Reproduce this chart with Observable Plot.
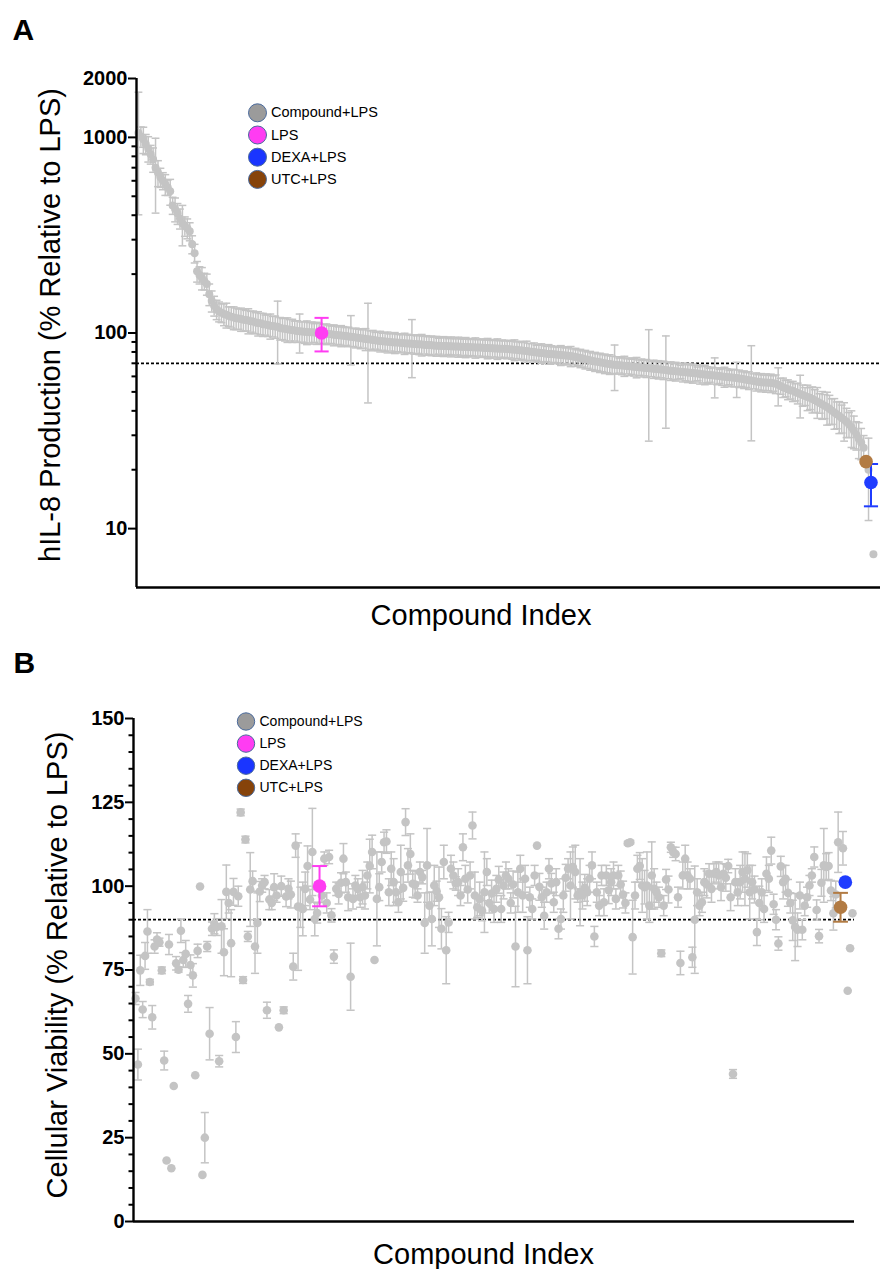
<!DOCTYPE html>
<html><head><meta charset="utf-8">
<script src="https://cdn.jsdelivr.net/npm/d3@7"></script>
<script src="https://cdn.jsdelivr.net/npm/@observablehq/plot@0.6"></script>
<style>
body{margin:0;background:#fff;}
#wrap{width:881px;}
#wrap svg{display:block;}
</style></head><body><div id="wrap"></div>
<script>
// ---------- shared categories ----------
const groups = ["Compound+LPS", "LPS", "DEXA+LPS", "UTC+LPS"];
const ctrlNames = ["LPS", "DEXA+LPS", "UTC+LPS"];

// ---------- Panel A: hIL-8 production (% of LPS), compounds ----------
const compA = [
1052,1010,977,925,878,820,773,700,660,625,
600,575,555,530,449,430,409,385,364,352,
343,331,284,256,207,198,191,184,178,158,
146,138,132,129,127,125,124,122,121,120,
119,118.5,118,117,116.5,116,115,114.5,113,112.5,
112,111,110.5,110,109,108.5,108,107.5,106,105.5,
105,104.5,104,103.5,103,102.5,102,101.8,101.5,101.2,
101,100.8,100.6,100.4,100.2,99.6,99.2,98.8,98.4,98,
97.7,97.4,97.1,96.8,96.5,96.1,95.7,95.3,94.9,94.5,
94.1,93.7,93.3,92.9,92.5,92.1,91.7,91.4,91.0,90.7,
90.4,90.1,89.9,89.7,89.5,89.3,89.1,88.9,88.7,88.5,
88.3,88.1,87.9,87.7,87.5,87.3,87.1,86.9,86.7,86.5,
86.3,86.1,86.0,85.9,85.8,85.7,85.6,85.5,85.4,85.3,
85.2,85.0,84.9,84.8,84.7,84.6,84.5,84.4,84.3,84.2,
84.0,83.9,83.8,83.6,83.5,83.4,83.3,83.2,83.1,83.0,
82.8,82.6,82.4,82.2,82.0,81.7,81.4,81.1,80.8,80.5,
80.2,79.9,79.6,79.3,79.0,78.7,78.4,78.2,78.0,77.8,
77.6,77.4,77.2,77.0,76.8,76.6,76.3,75.9,75.5,75.0,
74.5,74.0,73.5,73.0,72.5,72.0,71.6,71.2,70.8,70.4,
70.0,69.7,69.4,69.1,68.8,68.6,68.4,68.2,68.0,67.8,
67.6,67.4,67.2,67.0,66.8,66.6,66.4,66.2,66.0,65.8,
65.6,65.4,65.2,65.0,64.8,64.6,64.4,64.2,64.0,63.8,
63.6,63.4,63.2,63.0,62.8,62.6,62.4,62.2,62.0,61.8,
61.6,61.4,61.2,61.0,60.8,60.6,60.4,60.2,60.0,59.8,
59.6,59.4,59.2,59.0,58.8,58.6,58.3,58.0,57.7,57.4,
57.1,56.8,56.5,56.2,56.0,55.9,55.8,55.7,55.6,55.4,
55.0,54.4,53.6,52.8,52.2,51.6,51.0,50.6,50.0,49.4,
48.8,48.2,47.6,47.1,46.6,46.0,45.3,44.6,43.9,43.2,
42.5,41.8,41.0,40.1,39.2,38.4,37.6,36.8,36.0,35.2,
34.2,33.0,31.6,30.2,28.8,27.5,25.9,20.0,7.4
];
const sdA = [
650,120,150,110,130,90,110,290,100,70,
60,70,50,80,45,60,50,45,85,40,
40,35,30,28,25,20,25,18,22,20,
18,16,15,15,14,16,18,14,15,16,
15,14,16,15,14,17,14,15,14,16,
14,15,13,14,16,13,14,38,14,13,
14,15,13,14,12,13,23,12,13,14,
12,13,11,13,12,11,12,11,10,12,
11,10,12,11,10,11,27,10,11,10,
11,10,12,49,10,11,9,10,11,9,
10,11,9,10,11,9,10,9,11,10,
9,29,10,9,10,11,9,10,9,10,
9,10,8,9,10,9,8,10,9,8,
10,9,8,10,9,8,9,10,8,9,
9,8,10,9,8,9,10,8,9,8,
9,8,9,10,8,9,8,9,10,8,
8,9,7,8,9,8,7,9,8,7,
8,7,9,8,7,8,9,7,8,7,
8,7,8,7,8,7,8,7,8,7,
8,7,8,7,18,7,6,7,8,6,
7,6,7,8,6,7,6,7,38,6,
7,6,7,6,7,32,6,7,6,7,
6,5,7,6,7,6,7,6,5,7,
6,7,6,5,6,14,6,5,6,7,
6,5,6,6,12,6,5,6,5,6,
29,5,6,5,6,5,6,5,6,5,
6,12,5,6,5,6,5,6,5,6,
12,6,5,7,6,7,6,8,5,7,
6,8,7,6,7,6,7,6,8,6,
5,7,6,5,6,5,4,9,0
];
const ctrlA = [100, 17.2, 22];
const ctrlSdA = [19.5, 4.2, 0];
const thresholdA = 70;
const majorTicksA = [10, 100, 1000, 2000];
const minorTicksA = [20,30,40,50,60,70,80,90,200,300,400,500,600,700,800,900];

// ---------- Panel B: cellular viability (% of LPS), display order ----------
const vB = [
66.5,46.8,74.9,63.2,79.2,86.5,71.4,60.9,82.0,84.1,
83.3,74.9,48,18.2,82.6,15.9,40.4,77.0,75.1,86.7,
78,79.8,64.9,76.5,73.4,43.6,80.7,99.9,13.9,25,
82,56,87.3,88.8,87.8,47.8,88,80.3,98.3,95.0,
83,98.3,55,97.0,122,72,113.9,85,99,101.5,
82,89,98.4,100.2,101.2,63,96,95,99.7,97.2,
57.9,100,63,96.9,99.2,97.5,76,112.1,93.9,93.7,
93.2,99.2,106,96,110.2,90.2,92,
97.2,108.2,95,108.7,91.3,79,99.2,97.7,101,108.2,
101.2,96.7,73,96.2,100.2,99.2,96.7,99.7,97.2,103.2,
106,110.2,78,96.2,99.7,107.2,113.1,113.3,
98.2,105.2,101.2,98.2,95.2,104.2,99.5,119.1,106.2,109.6,
100.7,100.5,97.2,104.2,102.7,89,106.2,94.2,90.2,100.2,
98.5,96.7,87.3,107.2,80.9,89.2,105.2,103.2,100.8,101.2,
97.2,111.6,102.2,99.0,103.2,118.1,97.2,93.7,96.2,92.7,
98.2,104.2,95,97.8,93.2,99.2,101.9,93.2,100.2,103.2,
102.2,95,100.5,82,98.2,105.2,97.2,102.2,80.9,96.7,
93.2,103.2,112.1,99.8,96.7,91.2,98.2,105.2,100.8,95.2,
101.2,87.3,90.2,97.2,102.5,105.2,100.2,105.7,104.2,97.2,
98.2,97.2,99.5,98.2,102.2,106.2,85,98.2,94.2,103.2,
95.2,103.2,98.8,101.2,103.2,96.2,103.2,100.5,97.5,
95,112.8,113.1,84.8,97.2,105.2,106,100.2,99.7,100.2,
94.2,103.2,99.2,98.2,96.7,80,94.2,102,99.0,111.6,
110.1,109.6,96.7,77.1,103.2,108.2,103.2,102.2,78.8,90,
98.2,94.2,95.2,101.2,100.5,103.7,99.2,103.7,104.2,103.2,
99.7,103.7,102.5,106,96.7,44,101.2,98.2,101.2,104.2,
102.2,104.7,98.2,101.2,99.0,86.3,95,98.2,93.2,103.7,
102.2,110.6,94.6,90,82.9,105.9,101.2,102.2,98.0,95,
89.8,87.8,87,97.2,87,94.2,96.7,100.2,103.2,108.7,
92.9,85.1,101.0,106.2,105.7,106,98.7,91.9,97.5,113.1,
111.3,68.8,81.5,91.9
];
const sdB = [
1.8,4.6,4.5,2.4,4,6.5,0.8,3.5,2,2,
1.2,1,2.8,0,3,0,0,2,0.8,3.5,
2.2,4,2.5,3,3.5,0,2,0,0,7.5,
1.5,7.8,2,3,2.5,1.7,8,7,8,3,
10,4,4.6,3,1,1,1,1.5,11,3,
8,9,3,2,2,2.4,3,2,4,2,
0,3,1,3,3,4,4,3.5,19,6,
8,5,6,3,13,5,3,
2,2,3,2,2,2,2,3,3,4.5,
3,4,10,3,3,3,3,5,4,4,
8,5,0,14,4,3,3,3.5,
4,5,7,3,3,8,4,4,5,6,
4,4,2,3,2,9,11,4,8,6,
3,9,6,5,10,3,4,4,2,4,
3,4,4,4,4,4,7,3,5,3,
12,4,3,4,4,4,4,4,4,4,
3,3,4,12,6,4,5,4,10,3,
3,3,0,4,3,4,3,3,3,3,
4,3,3,5,4,3,10,6,8,2,
10,4,4,4,4,4,3,3,3,3,
4,3,4,4,4,3,3,4,4,
3,0.5,0.5,11,4,4,4,8,5,10,
5,10,6,3,3,1,3,3,4,1.5,
1.5,2,3,3.5,4,4,4,3,3,16,
4,3,3,4,4,3,4,3,3,4,
4,3,4,2,4,1.3,4,4,5,6,
8,5,8,5,4,4,5,4,4,5,
4,4,3,3,2,3,5,4,4,3,
6,10,5,4,3,3,3,3,2,3,
3,2,4,11,4,4,3,5,4,9,
5,0,0,0
];
const ctrlB = [100, 101.2, 93.7];
const ctrlSdB = [6, 0, 4.3];
const ctrlAfterB = [77, 295, 294]; // number of compounds shown before each control
const thresholdB = 90;
const majorTicksB = [0, 25, 50, 75, 100, 125, 150];
const minorTicksB = [5,10,15,20,30,35,40,45,55,60,65,70,80,85,90,95,105,110,115,120,130,135,140,145];

// ---------- styling ----------
const FONT = '"Liberation Sans", Arial, Helvetica, sans-serif';
const grayDot = "#c4c4c4";
const ctrlDot = ["#ff3cf2", "#1f3cff", "#b27b43"];
const legendFill = ["#9b9b9b", "#ff3cf2", "#1a35ff", "#86430a"];

function errMarks(rows, color, cap, sw) {
  const r = rows.filter(d => d.sd > 0);
  return [
    Plot.ruleX(r, {x: "i", y1: d => d.v - d.sd, y2: d => d.v + d.sd, stroke: color, strokeWidth: sw}),
    Plot.link(r, {x1: d => d.i - cap, x2: d => d.i + cap, y1: d => d.v + d.sd, y2: d => d.v + d.sd, stroke: color, strokeWidth: sw}),
    Plot.link(r, {x1: d => d.i - cap, x2: d => d.i + cap, y1: d => d.v - d.sd, y2: d => d.v - d.sd, stroke: color, strokeWidth: sw})
  ];
}
function legendMarks(dx0, dy0, step, r, fs) {
  return groups.flatMap((lab, k) => [
    Plot.dot([lab], {frameAnchor: "top-left", dx: dx0, dy: dy0 + k * step, r, fill: legendFill[k], stroke: "#4a6a9c", strokeWidth: 1}),
    Plot.text([lab], {frameAnchor: "top-left", dx: dx0 + 13.5, dy: dy0 + k * step, textAnchor: "start", lineAnchor: "middle", fontSize: fs, fill: "black"})
  ]);
}
function controlMarks(rows, capCtrl, rad) {
  return [1, 2, 3].flatMap(g => {
    const r = rows.filter(d => d.g === g);
    return [...errMarks(r, ctrlDot[g - 1], capCtrl, 2), Plot.dot(r, {x: "i", y: "v", r: rad, fill: ctrlDot[g - 1]})];
  });
}

// ---------- Panel A data table ----------
const rowsA = compA.map((v, j) => ({v, sd: sdA[j], g: 0}))
  .concat(ctrlA.map((v, k) => ({v, sd: ctrlSdA[k], g: k + 1})));
const sortedA = d3.sort(rowsA, d => -d.v);
sortedA.forEach((d, i) => d.i = i);
const grayA = sortedA.filter(d => d.g === 0);

const plotA = Plot.plot({
  width: 881, height: 640,
  marginTop: 78, marginBottom: 53, marginLeft: 136, marginRight: 1,
  style: {fontFamily: FONT, background: "transparent", overflow: "visible", color: "black"},
  x: {domain: [-0.8, sortedA.length - 1 + 2.9], axis: null},
  y: {type: "log", domain: [5, 2000], axis: null},
  marks: [
    Plot.ruleY([thresholdA], {stroke: "black", strokeWidth: 1.8, strokeDasharray: "3,2"}),
    ...errMarks(grayA, grayDot, 1.6, 1.5),
    Plot.dot(grayA, {x: "i", y: "v", r: 4, fill: grayDot}),
    ...controlMarks(sortedA, 2.9, 6.8),
    Plot.axisY({ticks: minorTicksA, tickSize: 4.5, tickFormat: () => "", strokeWidth: 2, label: null}),
    Plot.axisY({ticks: majorTicksA, tickSize: 8, tickPadding: 1, tickFormat: d => String(d), fontSize: 20, fontWeight: "bold", strokeWidth: 2, label: null}),
    Plot.ruleX([-0.8], {stroke: "black", strokeWidth: 2.4}),
    Plot.ruleY([5], {stroke: "black", strokeWidth: 2.4}),
    ...legendMarks(121, 34.3, 22.2, 9, 14.5),
    Plot.text(["hIL-8 Production (% Relative to LPS)"], {frameAnchor: "left", dx: -86, dy: -8, rotate: -90, textAnchor: "middle", lineAnchor: "middle", fontSize: 29, fill: "black"}),
    Plot.text(["Compound Index"], {frameAnchor: "bottom", dx: -27.5, dy: 28.7, textAnchor: "middle", lineAnchor: "middle", fontSize: 29, fill: "black"}),
    Plot.text(["A"], {frameAnchor: "top-left", dx: -124, dy: -48, textAnchor: "start", lineAnchor: "middle", fontSize: 30, fontWeight: "bold", fill: "black"})
  ]
});

// ---------- Panel B data table ----------
const rowsB = [];
vB.forEach((v, j) => {
  ctrlAfterB.forEach((a, k) => { if (a === j) rowsB.push({v: ctrlB[k], sd: ctrlSdB[k], g: k + 1}); });
  rowsB.push({v, sd: sdB[j], g: 0});
});
ctrlAfterB.forEach((a, k) => { if (a >= vB.length) rowsB.push({v: ctrlB[k], sd: ctrlSdB[k], g: k + 1}); });
rowsB.forEach((d, i) => d.i = i);
const grayB = rowsB.filter(d => d.g === 0);

const plotB = Plot.plot({
  width: 881, height: 629,
  marginTop: 78, marginBottom: 48, marginLeft: 133, marginRight: 27,
  style: {fontFamily: FONT, background: "transparent", overflow: "visible", color: "black"},
  x: {domain: [-0.84, rowsB.length - 1 + 0.84], axis: null},
  y: {domain: [0, 150], axis: null},
  marks: [
    Plot.ruleY([thresholdB], {stroke: "black", strokeWidth: 1.8, strokeDasharray: "3,2"}),
    ...errMarks(grayB, grayDot, 1.7, 1.5),
    Plot.dot(grayB, {x: "i", y: "v", r: 4.3, fill: grayDot}),
    ...controlMarks(rowsB, 3.1, 6.8),
    Plot.axisY({ticks: minorTicksB, tickSize: 4.5, tickFormat: () => "", strokeWidth: 2, label: null}),
    Plot.axisY({ticks: majorTicksB, tickSize: 8, tickPadding: 1, tickFormat: d => String(d), fontSize: 20, fontWeight: "bold", strokeWidth: 2, label: null}),
    Plot.ruleX([-0.84], {stroke: "black", strokeWidth: 2.4}),
    Plot.ruleY([0], {stroke: "black", strokeWidth: 2.4}),
    ...legendMarks(112.5, 3, 22.1, 8.7, 14),
    Plot.text(["Cellular Viability (% Relative to LPS)"], {frameAnchor: "left", dx: -75.6, dy: -5, rotate: -90, textAnchor: "middle", lineAnchor: "middle", fontSize: 29, fill: "black"}),
    Plot.text(["Compound Index"], {frameAnchor: "bottom", dx: -10.5, dy: 33, textAnchor: "middle", lineAnchor: "middle", fontSize: 29, fill: "black"}),
    Plot.text(["B"], {frameAnchor: "top-left", dx: -120, dy: -55.5, textAnchor: "start", lineAnchor: "middle", fontSize: 30, fontWeight: "bold", fill: "black"})
  ]
});

const wrap = document.getElementById("wrap");
wrap.appendChild(plotA);
wrap.appendChild(plotB);
</script></body></html>
